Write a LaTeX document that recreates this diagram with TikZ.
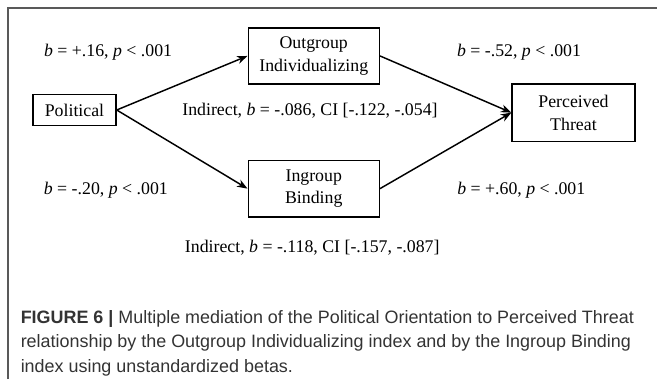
\documentclass[tikz,border=0pt]{standalone}
\usepackage{fontspec}
\setmainfont{Liberation Serif}
\newfontfamily\capfont{Liberation Sans}
\usepackage{tikz}
\usetikzlibrary{positioning,arrows.meta}

\begin{document}
\begin{tikzpicture}[
    ->,
    >=Stealth,
    line width=1.1pt
]

\tikzstyle{var}=[
    rectangle,
    draw,
    line width=1pt,
    inner sep=2pt,
    align=center,
    font=\fontsize{13.4}{17}\selectfont
]
\tikzstyle{coef}=[
    font=\fontsize{13.4}{16}\selectfont
]

\useasboundingbox (0,0) rectangle (17.38,-10.03);

% frame
\draw[-, line width=0.9pt, black!65] (0.21,-10.03) -- (0.21,-0.21) -- (17.38,-0.21);

\node[var, minimum width=2.2cm, minimum height=0.82cm] (pol) at (1.97,-2.91) {Political};
\node[var, minimum width=3.47cm, minimum height=1.48cm] (outg) at (8.30,-1.48) {Outgroup\\Individualizing};
\node[var, minimum width=3.47cm, minimum height=1.5cm] (ing) at (8.30,-4.99) {Ingroup\\Binding};
\node[var, minimum width=3.25cm, minimum height=1.51cm] (threat) at (15.17,-2.98) {Perceived\\Threat};

\draw (pol.east) -- (outg.west);
\draw (pol.east) -- (ing.west);
\draw (outg.east) -- (threat.west);
\draw (ing.east) -- (threat.west);

\node[coef] (a1) at (2.86,-1.38) {\textit{b} = +.16, \textit{p} < .001};
\node[coef] (a2) at (2.80,-5.03) {\textit{b} = -.20, \textit{p} < .001};
\node[coef] (b1) at (13.73,-1.38) {\textit{b} = -.52, \textit{p} < .001};
\node[coef] (b2) at (13.79,-5.03) {\textit{b} = +.60, \textit{p} < .001};
\node[coef] (ind1) at (8.20,-2.94) {Indirect, \textit{b} = -.086, CI [-.122, -.054]};
\node[coef] (ind2) at (8.26,-6.54) {Indirect, \textit{b} = -.118, CI [-.157, -.087]};

% caption
\node[anchor=north west, align=left, inner sep=0pt, text=black!80,
      font=\capfont\fontsize{13.5}{18.2}\selectfont] (cap) at (0.53,-8.2)
  {\textbf{FIGURE 6 |} Multiple mediation of the Political Orientation to Perceived Threat\\
   relationship by the Outgroup Individualizing index and by the Ingroup Binding\\
   index using unstandardized betas.};

\end{tikzpicture}
\end{document}
